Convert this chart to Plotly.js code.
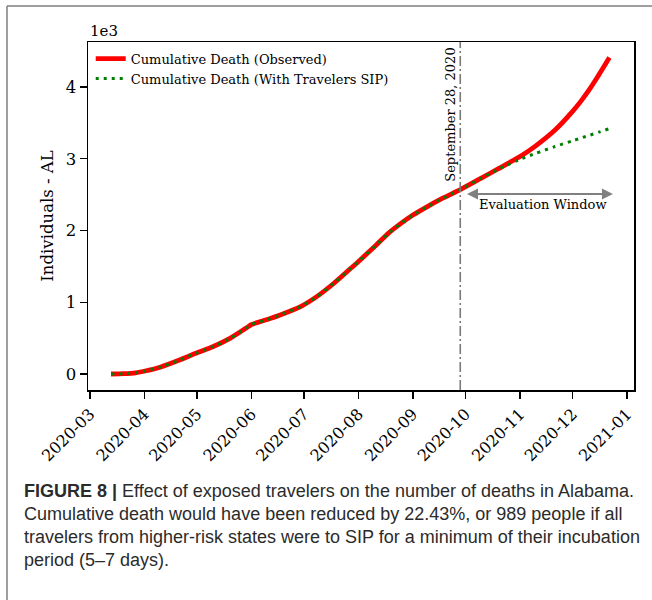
<!DOCTYPE html>
<html>
<head>
<meta charset="utf-8">
<script src="https://cdn.plot.ly/plotly-3.0.1.min.js"></script>
<style>
  html, body { margin: 0; padding: 0; background: #ffffff; }
  #chart { width: 652px; height: 600px; }
</style>
</head>
<body>
<div id="chart"></div>
<script>
// ---- data ----
const dates = ['2020-03-13','2020-03-20','2020-03-27','2020-04-02','2020-04-10','2020-04-21','2020-05-01','2020-05-10','2020-05-20','2020-05-29','2020-06-01','2020-06-10','2020-06-17','2020-06-29','2020-07-08','2020-07-18','2020-07-27','2020-08-02','2020-08-11','2020-08-18','2020-08-25','2020-09-01','2020-09-09','2020-09-18','2020-09-28','2020-10-10','2020-10-20','2020-11-02','2020-11-10','2020-11-21','2020-12-01','2020-12-06','2020-12-11','2020-12-16','2020-12-22'];
const observedDeaths = [0,5,17,45,95,195,295,380,500,640,690,760,820,940,1075,1265,1460,1590,1795,1960,2095,2215,2330,2450,2570,2730,2865,3045,3180,3400,3660,3810,3980,4170,4410];
const sipDeaths      = [0,5,17,45,95,195,295,380,500,640,690,760,820,940,1075,1265,1460,1590,1795,1960,2095,2215,2330,2450,2570,2730,2860,3000,3075,3170,3250,3290,3330,3370,3420];
const seriesNames = ['Cumulative Death (Observed)', 'Cumulative Death (With Travelers SIP)'];
const xTickVals = ['2020-03-01','2020-04-01','2020-05-01','2020-06-01','2020-07-01','2020-08-01','2020-09-01','2020-10-01','2020-11-01','2020-12-01','2021-01-01'];
const xTickText = ['2020-03','2020-04','2020-05','2020-06','2020-07','2020-08','2020-09','2020-10','2020-11','2020-12','2021-01'];
const yTickVals = [0,1000,2000,3000,4000];
const yTickText = ['0','1','2','3','4'];
const eventDate = '2020-09-28';
const eventLabel = 'September 28, 2020';
const windowStart = '2020-10-01';
const windowEnd = '2020-12-24';
const windowLevel = 2510;
const captionLines = [
  '<b>FIGURE 8 |</b> Effect of exposed travelers on the number of deaths in Alabama.',
  'Cumulative death would have been reduced by 22.43%, or 989 people if all',
  'travelers from higher-risk states were to SIP for a minimum of their incubation',
  'period (5–7 days).'
];

const serif = 'DejaVu Serif, serif';
const L = 88, R = 18, T = 42, B = 210, W = 652, H = 600;
const pw = W - L - R, ph = H - T - B;
const px2x = px => (px - L) / pw;
const py2y = py => (H - B - py) / ph;

const traces = [
  {x: dates, y: observedDeaths, name: seriesNames[0], type: 'scatter', mode: 'lines',
   line: {color: '#ff0000', width: 4.8, shape: 'spline', smoothing: 0.6}},
  {x: dates, y: sipDeaths, name: seriesNames[1], type: 'scatter', mode: 'lines',
   line: {color: '#008000', width: 3, dash: '3px,5px', shape: 'spline', smoothing: 0.6}}
];

const annotations = [
  {xref: 'paper', yref: 'paper', x: 0, y: py2y(31), xanchor: 'left', yanchor: 'middle',
   text: '1e3', showarrow: false, font: {family: serif, size: 15, color: '#000'}},
  {xref: 'x', yref: 'paper', x: eventDate, y: py2y(115), xanchor: 'right', yanchor: 'middle',
   xshift: -1, textangle: -90, text: eventLabel, showarrow: false,
   font: {family: serif, size: 13, color: '#000'}},
  {xref: 'x', yref: 'y', x: windowEnd, y: windowLevel, axref: 'x', ayref: 'y',
   ax: windowStart, ay: windowLevel, text: '', showarrow: true, arrowside: 'end+start',
   arrowhead: 2, arrowsize: 1.1, arrowwidth: 2, arrowcolor: '#808080'},
  {xref: 'paper', yref: 'paper', x: px2x(543), y: py2y(205), xanchor: 'center', yanchor: 'middle',
   text: 'Evaluation Window', showarrow: false, font: {family: serif, size: 13, color: '#000'}}
];
const capY = [491, 514, 537, 560];
captionLines.forEach((t, i) => {
  annotations.push({xref: 'paper', yref: 'paper', x: px2x(22), y: py2y(capY[i]),
    xanchor: 'left', yanchor: 'middle', align: 'left', text: t, showarrow: false,
    font: {family: 'Liberation Sans, Arial, sans-serif', size: 18, color: '#2b2b2b'}});
});

const shapes = [
  {type: 'line', xref: 'x', yref: 'paper', x0: eventDate, x1: eventDate, y0: 0, y1: 1,
   line: {color: '#7a7a7a', width: 1.6, dash: '10px,3px,2px,3px'}},
  // figure frame (left and top rules)
  {type: 'line', xref: 'paper', yref: 'paper', x0: px2x(7), x1: px2x(7), y0: py2y(6), y1: py2y(600),
   line: {color: '#7f7f7f', width: 1.5}},
  {type: 'line', xref: 'paper', yref: 'paper', x0: px2x(7), x1: px2x(652), y0: py2y(6), y1: py2y(6),
   line: {color: '#7f7f7f', width: 1.5}}
];

const layout = {
  width: W, height: H,
  margin: {l: L, r: R, t: T, b: B, pad: 0},
  paper_bgcolor: '#ffffff', plot_bgcolor: '#ffffff',
  showlegend: true,
  legend: {x: 0.005, y: 0.995, xanchor: 'left', yanchor: 'top', bgcolor: 'rgba(0,0,0,0)',
           font: {family: serif, size: 13, color: '#000'}, itemwidth: 30},
  xaxis: {type: 'date', range: ['2020-02-28 21:00', '2021-01-05'],
          tickvals: xTickVals, ticktext: xTickText, tickangle: -45,
          ticks: 'outside', ticklen: 7, tickwidth: 1.3, tickcolor: '#000',
          showgrid: false, zeroline: false, showline: true, linecolor: '#000', linewidth: 1.5, mirror: true,
          tickfont: {family: serif, size: 16, color: '#000'}},
  yaxis: {range: [-223, 4627], tickvals: yTickVals, ticktext: yTickText,
          ticks: 'outside', ticklen: 7, tickwidth: 1.3, tickcolor: '#000',
          showgrid: false, zeroline: false, showline: true, linecolor: '#000', linewidth: 1.5, mirror: true,
          tickfont: {family: serif, size: 16.5, color: '#000'},
          title: {text: 'Individuals - AL', standoff: 8, font: {family: serif, size: 16.5, color: '#000'}}},
  annotations: annotations,
  shapes: shapes
};

Plotly.newPlot('chart', traces, layout, {displayModeBar: false, staticPlot: true});
</script>
</body>
</html>
